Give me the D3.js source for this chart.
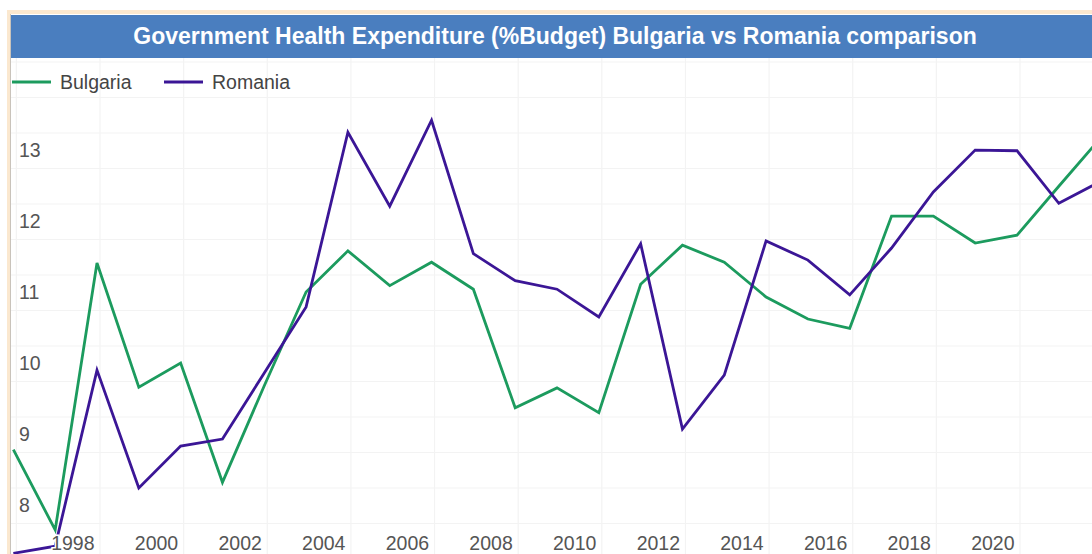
<!DOCTYPE html>
<html>
<head>
<meta charset="utf-8">
<script src="https://cdn.jsdelivr.net/npm/d3@7"></script>
<style>
  body { margin: 0; background: #fff; font-family: "Liberation Sans", Arial, sans-serif; }
</style>
</head>
<body>
<div id="chart"><svg></svg></div>
<script>
const years = [1997,1998,1999,2000,2001,2002,2003,2004,2005,2006,2007,2008,2009,2010,
               2011,2012,2013,2014,2015,2016,2017,2018,2019,2020,2021,2022,2023];
const bulgaria = [8.54,7.41,11.17,9.42,9.76,8.08,9.44,10.76,11.34,10.85,11.18,10.80,9.13,9.41,
                  9.06,10.87,11.42,11.18,10.69,10.38,10.25,11.83,11.83,11.45,11.56,12.25,12.93];
const romania = [7.08,7.18,9.66,8.00,8.59,8.69,9.62,10.55,13.01,11.97,13.18,11.30,10.92,10.80,
                 10.41,11.44,8.83,9.59,11.48,11.21,10.72,11.38,12.17,12.76,12.75,12.01,12.32];
const xTicks = [1998,2000,2002,2004,2006,2008,2010,2012,2014,2016,2018,2020];
const yTicks = [8,9,10,11,12,13];
const seriesNames = ["Bulgaria", "Romania"];
const seriesColors = ["#1c9b5e", "#3b1696"];

const width = 1092, height = 554;
const svg = d3.select("svg").attr("width", width).attr("height", height);

// frame
svg.append("rect").attr("x", 7).attr("y", 10).attr("width", width).attr("height", height)
  .attr("fill", "#fbe8cf");
svg.append("rect").attr("x", 10).attr("y", 14).attr("width", width).attr("height", height)
  .attr("fill", "#fff");
svg.append("line").attr("x1", 10.5).attr("x2", 10.5).attr("y1", 14).attr("y2", height)
  .attr("stroke", "#c9c3bb");

const x = d3.scaleLinear().domain([1999, 2021]).range([97, 1017]);
const y = d3.scaleLinear().domain([13, 8]).range([133, 488]);

svg.append("clipPath").attr("id", "plot")
  .append("rect").attr("x", 11).attr("y", 58).attr("width", width).attr("height", height);

const grid = svg.append("g").attr("clip-path", "url(#plot)");
grid.selectAll("line.v")
  .data(d3.range(1997, 2025, 2))
  .join("line")
  .attr("x1", d => x(d) + 3).attr("x2", d => x(d) + 3)
  .attr("y1", 58).attr("y2", height)
  .attr("stroke", "#f3f3f3").attr("stroke-width", 1.2);
grid.selectAll("line.h")
  .data(d3.range(7, 14.5, 0.5))
  .join("line")
  .attr("x1", 11).attr("x2", width)
  .attr("y1", d => y(d)).attr("y2", d => y(d))
  .attr("stroke", "#f3f3f3").attr("stroke-width", 1.2);

// title bar
svg.append("rect").attr("x", 11).attr("y", 15).attr("width", width).attr("height", 43)
  .attr("fill", "#4a7ebf");
svg.append("text").attr("x", 555).attr("y", 44)
  .attr("text-anchor", "middle").attr("fill", "#fff")
  .attr("font-size", 23).attr("font-weight", "bold")
  .text("Government Health Expenditure (%Budget) Bulgaria vs Romania comparison");

// lines
const line = d3.line().x((d, i) => x(years[i])).y(d => y(d));
const lines = svg.append("g").attr("clip-path", "url(#plot)");
[bulgaria, romania].forEach((s, i) => {
  lines.append("path").datum(s)
    .attr("d", line)
    .attr("fill", "none")
    .attr("stroke", seriesColors[i])
    .attr("stroke-width", 2.8)
    .attr("stroke-linejoin", "miter");
});

// axes labels
svg.append("g").selectAll("text")
  .data(yTicks)
  .join("text")
  .attr("x", 19).attr("y", d => y(d) + 24)
  .attr("fill", "#555").attr("font-size", 19.5)
  .text(d => d);

svg.append("g").selectAll("text")
  .data(xTicks)
  .join("text")
  .attr("x", d => x(d) - 4).attr("y", 550)
  .attr("fill", "#555").attr("font-size", 19.5)
  .attr("stroke", "#fff").attr("stroke-width", 3).attr("paint-order", "stroke")
  .text(d => d);

// legend
const legend = svg.append("g");
const legendX = [12, 164];
seriesNames.forEach((n, i) => {
  legend.append("line")
    .attr("x1", legendX[i]).attr("x2", legendX[i] + 39)
    .attr("y1", 82).attr("y2", 82)
    .attr("stroke", seriesColors[i]).attr("stroke-width", 2.8);
  legend.append("text")
    .attr("x", legendX[i] + 48).attr("y", 89)
    .attr("fill", "#444").attr("font-size", 19.5)
    .text(n);
});
</script>
</body>
</html>
